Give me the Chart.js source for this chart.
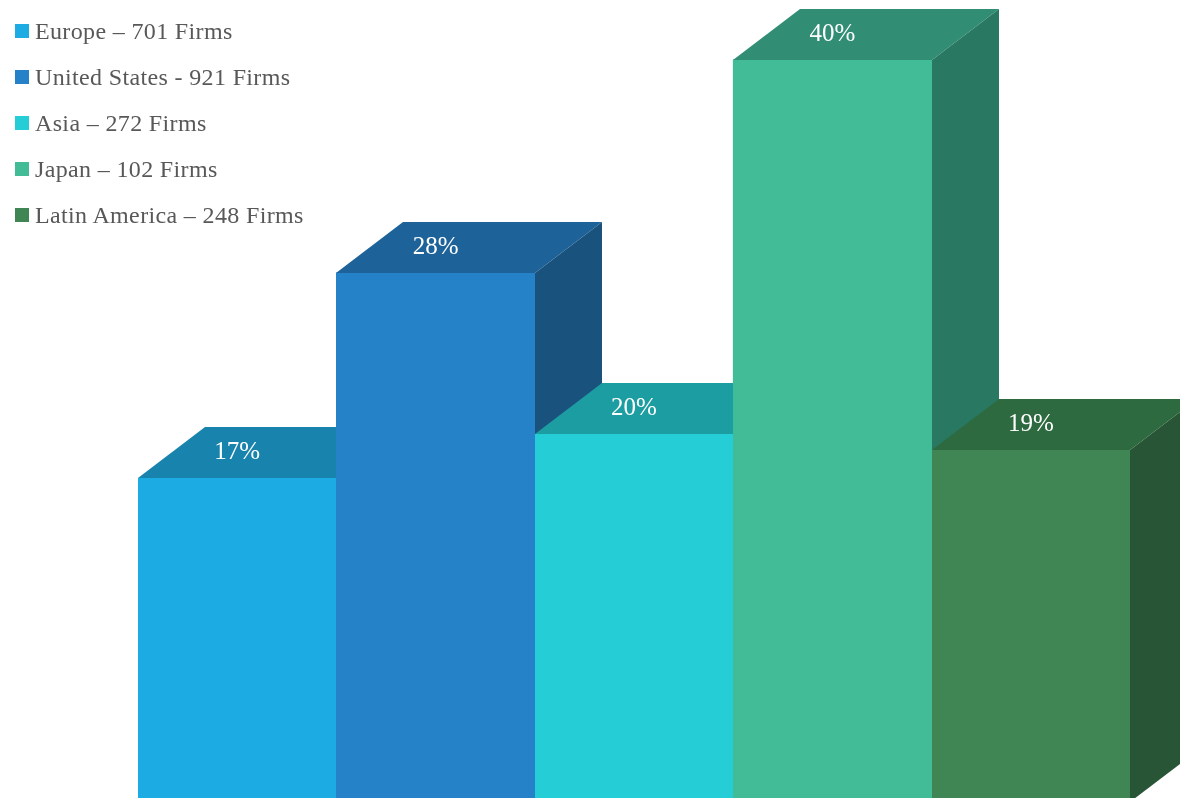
<!DOCTYPE html>
<html>
<head>
<meta charset="utf-8">
<title>Firms by region</title>
<script src="https://cdn.jsdelivr.net/npm/chart.js@4.4.1/dist/chart.umd.min.js"></script>
<style>
  body { margin: 0; background: #fff; }
  #wrap { position: relative; width: 1180px; height: 798px; overflow: hidden; }
  #legend {
    position: absolute; left: 15px; top: 8px;
    font-family: "Liberation Serif", "DejaVu Serif", serif;
    font-size: 24px; letter-spacing: 0.35px; color: #585858;
  }
  #legend .row { height: 46px; display: flex; align-items: center; }
  #legend .box { width: 14px; height: 14px; margin-right: 6px; flex: none; }
</style>
</head>
<body>
<div id="wrap">
  <canvas id="chart"></canvas>
  <div id="legend"></div>
</div>
<script>
const regions = ["Europe", "United States", "Asia", "Japan", "Latin America"];
const legendLabels = [
  "Europe – 701 Firms",
  "United States - 921 Firms",
  "Asia – 272 Firms",
  "Japan – 102 Firms",
  "Latin America – 248 Firms"
];
// bar heights (labels show the rounded value)
const shares = [17.3, 28.3, 19.7, 39.7, 18.8];

const frontColors = ["#1dabe3", "#2682c8", "#25cdd6", "#42bc96", "#3f8654"];
const topColors   = ["#1883ad", "#1d6399", "#1c9da1", "#318e74", "#2e6a40"];
const sideColors  = ["#16658a", "#1a527e", "#178184", "#287862", "#285535"];

const DX = 67, DY = 51;

const cubePlugin = {
  id: "cube3d",
  afterDatasetsDraw(chart) {
    const ctx = chart.ctx;
    const meta = chart.getDatasetMeta(0);
    ctx.save();
    meta.data.forEach((bar, i) => {
      const p = bar.getProps(["x", "y", "base", "width"], true);
      const l = Math.round(p.x - p.width / 2), r = Math.round(p.x + p.width / 2);
      const t = Math.round(p.y), b = Math.round(p.base);

      ctx.fillStyle = frontColors[i];
      ctx.fillRect(l, t, r - l, b - t);

      ctx.fillStyle = topColors[i];
      ctx.beginPath();
      ctx.moveTo(l, t);
      ctx.lineTo(l + DX, t - DY);
      ctx.lineTo(r + DX, t - DY);
      ctx.lineTo(r, t);
      ctx.closePath();
      ctx.fill();

      ctx.fillStyle = sideColors[i];
      ctx.beginPath();
      ctx.moveTo(r, t);
      ctx.lineTo(r + DX, t - DY);
      ctx.lineTo(r + DX, b - DY);
      ctx.lineTo(r, b);
      ctx.closePath();
      ctx.fill();

      ctx.fillStyle = "#ffffff";
      ctx.font = '25px "Liberation Serif", serif';
      ctx.textAlign = "center";
      ctx.textBaseline = "middle";
      ctx.fillText(Math.round(shares[i]) + "%", p.x, t - DY / 2);
    });
    ctx.restore();
  }
};

const chart = new Chart(document.getElementById("chart"), {
  type: "bar",
  data: {
    labels: regions,
    datasets: [{
      data: shares,
      backgroundColor: frontColors,
      borderWidth: 0,
      barPercentage: 1,
      categoryPercentage: 1
    }]
  },
  options: {
    responsive: true,
    maintainAspectRatio: false,
    animation: false,
    layout: { padding: { left: 138, right: 50, top: 0, bottom: 0 } },
    plugins: {
      legend: { display: false },
      tooltip: { enabled: false }
    },
    scales: {
      x: { display: false },
      y: { display: false, min: 0.2, max: 42.9 }
    }
  },
  plugins: [cubePlugin]
});

const legendEl = document.getElementById("legend");
legendLabels.forEach((txt, i) => {
  const row = document.createElement("div");
  row.className = "row";
  const box = document.createElement("span");
  box.className = "box";
  box.style.background = frontColors[i];
  const label = document.createElement("span");
  label.textContent = txt;
  row.appendChild(box);
  row.appendChild(label);
  legendEl.appendChild(row);
});
</script>
</body>
</html>
